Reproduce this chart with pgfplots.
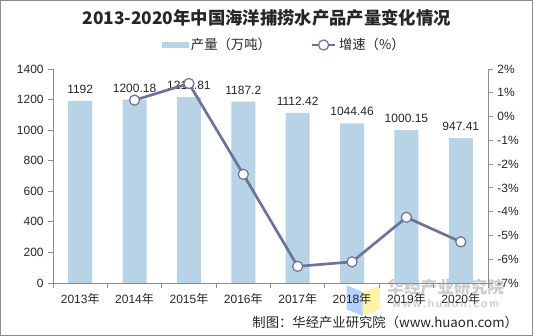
\documentclass[border=0pt]{standalone}
\usepackage{fontspec}
\setmainfont{Liberation Sans}
\newfontfamily\cjk{Noto Sans CJK SC}
\usepackage{pgfplots}
\usepackage{pgfplotstable}
\pgfplotsset{compat=1.18}
\definecolor{barc}{HTML}{B7D3E5}
\definecolor{linec}{HTML}{6B7399}
\definecolor{axc}{HTML}{8C8C8C}
\definecolor{txt}{HTML}{262626}

\pgfplotstableread{
x y lab
0 1192 1192
1 1200.18 1200.18
2 1216.81 1216.81
3 1187.2 1187.2
4 1112.42 1112.42
5 1044.46 1044.46
6 1000.15 1000.15
7 947.41 947.41
}\prod

\pgfplotstableread{
x g
1 0.69
2 1.39
3 -2.43
4 -6.30
5 -6.11
6 -4.24
7 -5.27
}\growth

\begin{document}
\begin{tikzpicture}
\useasboundingbox (0pt,0pt) rectangle (399.75pt,252pt);
\draw[axc, line width=0.75pt] (0.5pt,0.5pt) rectangle (399.25pt,251.5pt);
% watermark
\fill[blue!60!cyan, opacity=0.3] (260pt,38pt) -- (272pt,33pt) -- (272pt,15pt) -- (260pt,20pt) -- cycle;
\fill[yellow!80!orange, opacity=0.35] (272pt,33pt) -- (285pt,38pt) -- (285pt,20pt) -- (272pt,15pt) -- cycle;
\node[anchor=west, text=gray, opacity=0.4, font=\cjk\bfseries\fontsize{12.5}{12.5}\selectfont] at (287pt,36.5pt) {华经产业研究院};
\node[anchor=west, text=gray, opacity=0.4, font=\bfseries\fontsize{8}{8}\selectfont] at (291pt,24pt) {w\,w\,w\,.\,h\,u\,a\,o\,n\,.\,c\,o\,m};

\begin{axis}[
  at={(39.75pt,39.75pt)}, anchor=south west,
  scale only axis, width=326.25pt, height=160.5pt,
  xmin=-0.5, xmax=7.5, ymin=0, ymax=1400,
  axis x line*=bottom, axis y line*=left,
  axis line style={axc, line width=0.6pt},
  xtick={0,...,7},
  xticklabels={2013{\cjk 年},2014{\cjk 年},2015{\cjk 年},2016{\cjk 年},2017{\cjk 年},2018{\cjk 年},2019{\cjk 年},2020{\cjk 年}},
  minor xtick={-0.5,0.5,...,7.5},
  major x tick style={draw=none},
  minor x tick style={axc, line width=0.6pt},
  minor tick length=3.5pt,
  ytick={0,200,...,1400},
  yticklabels={0,200,400,600,800,1000,1200,1400},
  y tick style={axc, line width=0.6pt},
  major tick length=3.5pt,
  tick align=outside,
  tick label style={font=\fontsize{9}{9}\selectfont, text=txt},
  xticklabel style={yshift=-1pt},
  ybar, bar width=18pt,
  nodes near coords,
  point meta=explicit symbolic,
  every node near coord/.append style={font=\fontsize{9}{9}\selectfont, text=txt, yshift=2pt},
  clip=false,
]
\addplot[fill=barc, draw=none] table[x=x, y=y, meta=lab] {\prod};
\end{axis}

\begin{axis}[
  at={(39.75pt,39.75pt)}, anchor=south west,
  scale only axis, width=326.25pt, height=160.5pt,
  xmin=-0.5, xmax=7.5, ymin=-7, ymax=2,
  axis x line=none, axis y line*=right,
  axis line style={axc, line width=0.6pt},
  ytick={-7,...,2},
  yticklabels={-7\%,-6\%,-5\%,-4\%,-3\%,-2\%,-1\%,0\%,1\%,2\%},
  y tick style={axc, line width=0.6pt},
  major tick length=3.5pt,
  tick align=outside,
  tick label style={font=\fontsize{9}{9}\selectfont, text=txt},
  clip=false,
  legend columns=2,
  legend style={draw=none, fill=none, at={(0.533,1.112)}, anchor=center,
    font=\cjk\fontsize{10}{10}\selectfont, text=txt,
    /tikz/every even column/.append style={column sep=28pt}},
]
\addlegendimage{legend image code/.code={\fill[barc] (0pt,-2pt) rectangle (19pt,2pt);}}
\addlegendentry{产量（万吨）}
\addplot[color=linec, line width=2pt, mark=*, mark size=3.8pt,
  mark options={fill=white, draw=linec, line width=0.9pt}] table[x=x, y=g] {\growth};
\addlegendentry{增速（\%）}
\end{axis}

\node[font=\cjk\bfseries\fontsize{13}{13}\selectfont, text=txt] at (200pt,238.5pt) {2013-2020年中国海洋捕捞水产品产量变化情况};
\node[anchor=east, font=\cjk\fontsize{10}{10}\selectfont, text=txt] at (392pt,10.5pt) {制图：华经产业研究院（www.huaon.com）};
\end{tikzpicture}
\end{document}
